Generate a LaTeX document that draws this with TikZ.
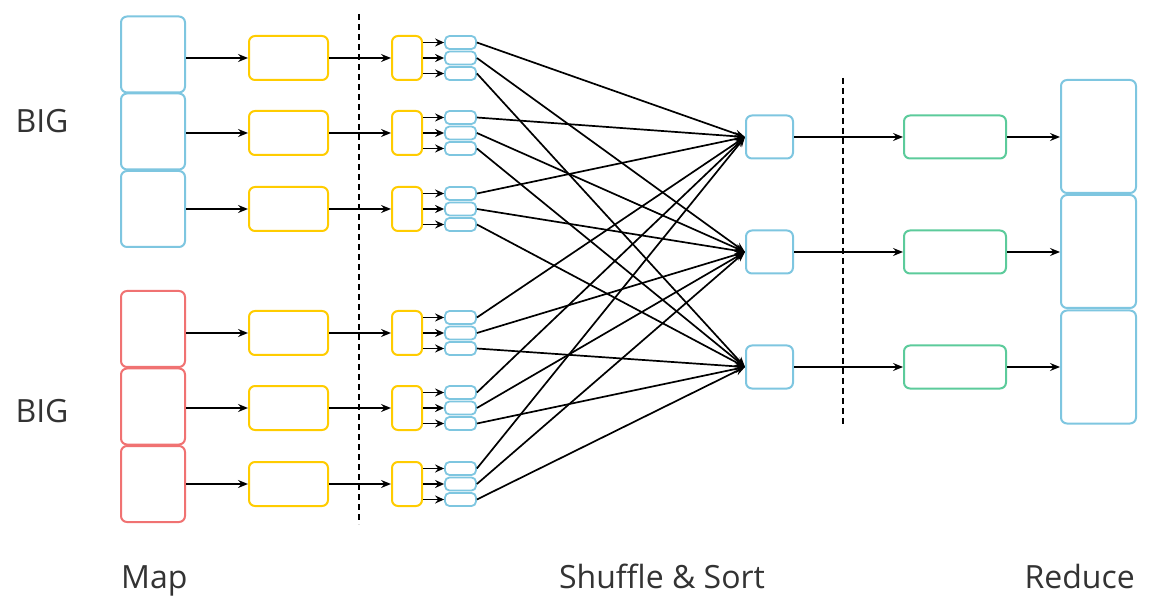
\documentclass[tikz,border=0pt]{standalone}
\usepackage{fontspec}
\setmainfont{Open Sans}
\usetikzlibrary{arrows.meta}
\definecolor{bblue}{HTML}{7EC6E0}
\definecolor{byellow}{HTML}{FFCC00}
\definecolor{bred}{HTML}{F07272}
\definecolor{bgreen}{HTML}{5CCB9B}
\definecolor{txt}{HTML}{333333}
\tikzset{
  box/.style={draw=#1, line width=2pt, rounded corners=6pt, inner sep=0pt, fill=white},
  inbox/.style={box=#1, minimum width=64pt, minimum height=76pt},
  mapbox/.style={box=byellow, minimum width=79pt, minimum height=44pt},
  combbox/.style={box=byellow, minimum width=30pt, minimum height=44pt},
  smallbox/.style={draw=bblue, line width=1.8pt, rounded corners=4.5pt, inner sep=0pt, fill=white, minimum width=31pt, minimum height=13pt},
  redbox/.style={box=bblue, minimum width=47pt, minimum height=43pt},
  greenbox/.style={box=bgreen, minimum width=102pt, minimum height=43pt},
  outbox/.style={box=bblue, minimum width=75pt, minimum height=113pt},
  conn/.style={line width=1.7pt, -{Stealth[length=10pt,width=8pt,inset=3.5pt]}},
  sconn/.style={line width=1.7pt, -{Stealth[length=10pt,width=8pt,inset=3.5pt]}},
  tconn/.style={line width=1.9pt, -{Stealth[length=9pt,width=8pt,inset=3pt]}},
  divider/.style={line width=1.4pt, dash pattern=on 6pt off 4pt},
  lbl/.style={text=txt, font=\fontsize{32}{38}\selectfont, inner sep=0pt},
}
\begin{document}
\begin{tikzpicture}[x=1pt,y=-1pt]
\useasboundingbox (0,0) rectangle (1165,612);
% dividers
\draw[divider] (359,14) coordinate (d1t) -- (359,524) coordinate (d1b);
\draw[divider] (843,78) coordinate (d2t) -- (843,425) coordinate (d2b);
% input boxes
\node[inbox=bblue] (in1) at (153,54.5) {};
\node[inbox=bblue] (in2) at (153,131.5) {};
\node[inbox=bblue] (in3) at (153,209) {};
\node[inbox=bred] (in4) at (153,329) {};
\node[inbox=bred] (in5) at (153,406.5) {};
\node[inbox=bred] (in6) at (153,484) {};
% map, combine, small boxes
\foreach \i/\y in {1/58,2/133,3/209,4/333,5/408,6/484}{
  \node[mapbox] (map\i) at (288.5,\y) {};
  \node[combbox] (comb\i) at (407,\y) {};
  \node[smallbox] (s\i a) at (460.5,\y-15.5) {};
  \node[smallbox] (s\i b) at (460.5,\y) {};
  \node[smallbox] (s\i c) at (460.5,\y+15.5) {};
  \draw[conn] (in\i.east |- map\i.west) -- (map\i.west);
  \draw[conn] (map\i.east) -- (comb\i.west);
  \draw[tconn] (comb\i.east |- s\i a.west) -- (s\i a.west);
  \draw[tconn] (comb\i.east |- s\i b.west) -- (s\i b.west);
  \draw[tconn] (comb\i.east |- s\i c.west) -- (s\i c.west);
}
% reduce side
\foreach \i/\y in {1/137,2/252,3/367}{
  \node[redbox] (r\i) at (769.5,\y) {};
  \node[greenbox] (g\i) at (955,\y) {};
  \draw[conn] (r\i.east) -- (g\i.west);
}
\node[outbox] (o1) at (1098.5,136.5) {};
\node[outbox] (o2) at (1098.5,251.5) {};
\node[outbox] (o3) at (1098.5,367) {};
\foreach \i in {1,2,3}{
  \draw[conn] (g\i.east) -- (g\i.east -| o\i.west);
}
% shuffle connections
\foreach \i in {1,...,6}{
  \draw[sconn] (s\i a.east) -- (r1.west);
  \draw[sconn] (s\i b.east) -- (r2.west);
  \draw[sconn] (s\i c.east) -- (r3.west);
}
% labels
\node[lbl] (big1) at (42,121) {BIG};
\node[lbl] (big2) at (42,411) {BIG};
\node[lbl, anchor=base west] (lmap) at (121,588) {Map};
\node[lbl, anchor=base] (lss) at (662,588) {Shuffle \& Sort};
\node[lbl, anchor=base east] (lred) at (1135,588) {Reduce};
\end{tikzpicture}
\end{document}
